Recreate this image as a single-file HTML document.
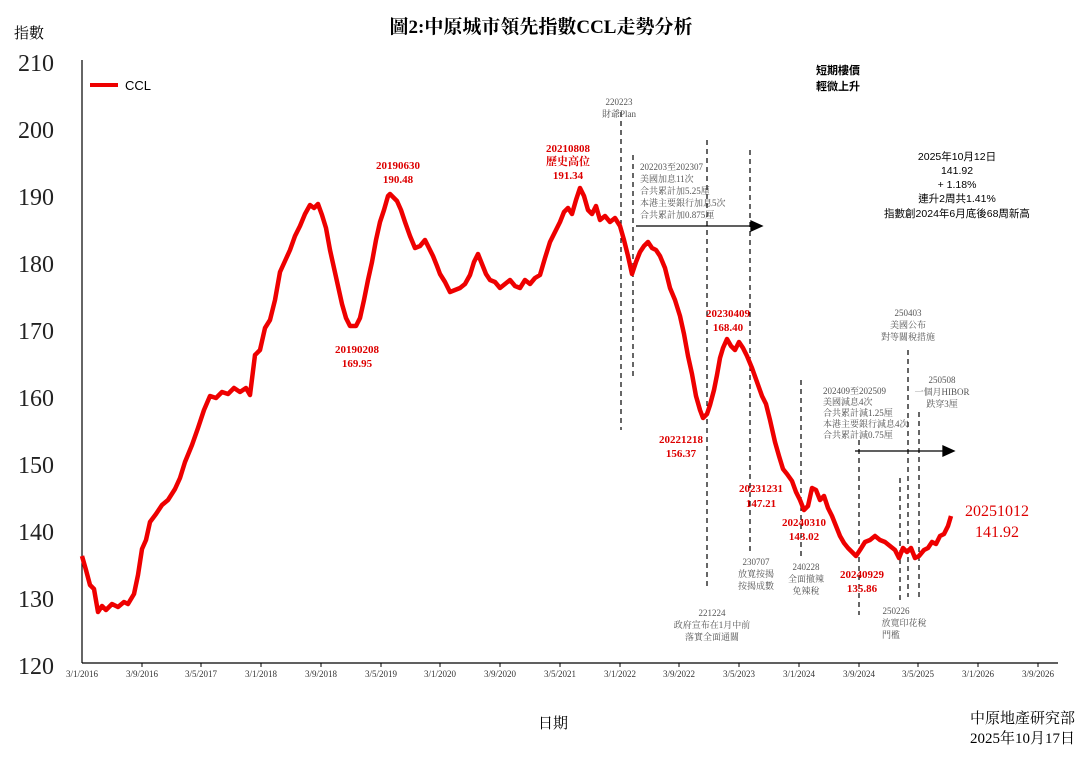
<!DOCTYPE html>
<html><head><meta charset="utf-8"><style>
html,body{margin:0;padding:0;background:#fff;}
svg{display:block;}
</style></head><body>
<svg width="1085" height="757" xmlns="http://www.w3.org/2000/svg" font-family="'Liberation Serif','Noto Serif CJK SC','Noto Sans CJK TC',serif">
<rect width="1085" height="757" fill="#fff"/>
<text x="541" y="33" text-anchor="middle" font-size="19" font-weight="bold">圖2:中原城市領先指數CCL走勢分析</text>
<text x="14" y="38" font-size="15">指數</text>
<g font-size="24" text-anchor="end" fill="#222">
<text x="54" y="71">210</text><text x="54" y="138">200</text><text x="54" y="205">190</text>
<text x="54" y="272">180</text><text x="54" y="339">170</text><text x="54" y="406">160</text>
<text x="54" y="473">150</text><text x="54" y="540">140</text><text x="54" y="607">130</text>
<text x="54" y="674">120</text>
</g>
<line x1="82" y1="60" x2="82" y2="663" stroke="#000" stroke-width="1.2"/>
<line x1="82" y1="663" x2="1058" y2="663" stroke="#000" stroke-width="1.2"/>
<g stroke="#000" stroke-width="1">
<line x1="142" y1="663" x2="142" y2="667"/><line x1="201" y1="663" x2="201" y2="667"/><line x1="261" y1="663" x2="261" y2="667"/><line x1="321" y1="663" x2="321" y2="667"/><line x1="381" y1="663" x2="381" y2="667"/><line x1="440" y1="663" x2="440" y2="667"/><line x1="500" y1="663" x2="500" y2="667"/><line x1="560" y1="663" x2="560" y2="667"/><line x1="620" y1="663" x2="620" y2="667"/><line x1="679" y1="663" x2="679" y2="667"/><line x1="739" y1="663" x2="739" y2="667"/><line x1="799" y1="663" x2="799" y2="667"/><line x1="859" y1="663" x2="859" y2="667"/><line x1="918" y1="663" x2="918" y2="667"/><line x1="978" y1="663" x2="978" y2="667"/><line x1="1038" y1="663" x2="1038" y2="667"/>
</g>
<g font-size="9" text-anchor="middle" fill="#333">
<text x="82" y="677">3/1/2016</text><text x="142" y="677">3/9/2016</text><text x="201" y="677">3/5/2017</text><text x="261" y="677">3/1/2018</text><text x="321" y="677">3/9/2018</text><text x="381" y="677">3/5/2019</text><text x="440" y="677">3/1/2020</text><text x="500" y="677">3/9/2020</text><text x="560" y="677">3/5/2021</text><text x="620" y="677">3/1/2022</text><text x="679" y="677">3/9/2022</text><text x="739" y="677">3/5/2023</text><text x="799" y="677">3/1/2024</text><text x="859" y="677">3/9/2024</text><text x="918" y="677">3/5/2025</text><text x="978" y="677">3/1/2026</text><text x="1038" y="677">3/9/2026</text>
</g>
<text x="553" y="728" font-size="15" text-anchor="middle">日期</text>
<text x="1075" y="723" font-size="15" text-anchor="end">中原地產研究部</text>
<text x="1075" y="743" font-size="15" text-anchor="end">2025年10月17日</text>
<!-- legend -->
<line x1="90" y1="85" x2="118" y2="85" stroke="#e00" stroke-width="4"/>
<text x="125" y="90" font-size="13" font-family="'Liberation Sans',sans-serif">CCL</text>
<!-- dashed lines -->
<g stroke="#000" stroke-width="1.2" stroke-dasharray="5,4">
<line x1="621" y1="112" x2="621" y2="430"/><line x1="633" y1="155" x2="633" y2="380"/>
<line x1="707" y1="140" x2="707" y2="590"/><line x1="750" y1="150" x2="750" y2="555"/>
<line x1="801" y1="380" x2="801" y2="560"/><line x1="859" y1="440" x2="859" y2="615"/>
<line x1="900" y1="478" x2="900" y2="600"/><line x1="908" y1="350" x2="908" y2="597"/>
<line x1="919" y1="412" x2="919" y2="600"/>
</g>
<g stroke="#000" stroke-width="1.3">
<line x1="636" y1="226" x2="752" y2="226"/><polygon points="762,226 751,221 751,231" fill="#000"/>
<line x1="855" y1="451" x2="944" y2="451"/><polygon points="954,451 943,446 943,456" fill="#000"/>
</g>
<!-- series -->
<polyline fill="none" stroke="#e00" stroke-width="4.5" stroke-linejoin="round" points="82,556 86,570 90,585 94,589 98,612 102,606 106,610 112,604 118,607 124,602 128,604 134,594 138,575 142,549 146,540 150,522 156,514 162,505 168,500 175,489 180,478 185,462 192,445 198,428 204,410 210,396 216,398 222,392 228,394 234,388 240,392 246,388 250,395 255,355 260,350 265,328 270,320 275,300 280,272 285,261 290,250 295,236 300,226 305,214 310,205 314,208 318,204 322,215 326,228 330,250 334,268 338,286 342,304 346,318 350,326 356,326 360,318 364,300 368,280 372,262 376,240 380,222 384,210 388,196 390,194 394,198 397,201 401,210 405,222 410,236 415,248 420,246 425,240 429,248 433,256 437,266 440,274 445,282 450,292 455,290 460,288 465,284 470,275 474,262 478,254 482,264 486,274 490,280 495,282 500,288 505,284 510,280 515,286 520,288 525,280 530,284 535,278 540,275 545,258 550,242 555,232 560,222 564,212 568,208 572,214 576,200 580,188 584,196 588,210 592,214 596,206 600,220 605,216 610,222 615,218 620,226 624,240 628,256 632,274 636,262 640,252 644,246 648,242 652,248 656,250 660,256 665,268 670,288 675,300 680,316 684,334 688,356 692,374 696,396 700,410 703,418 707,414 710,405 714,390 717,375 720,358 723,348 727,339 731,346 735,350 739,342 743,348 747,356 752,368 757,382 762,396 766,404 770,420 775,442 779,456 783,469 787,474 792,481 796,492 800,500 804,510 808,506 812,488 816,490 820,500 824,496 828,508 832,516 836,526 840,536 844,543 848,548 852,552 856,556 860,550 865,542 870,540 875,536 880,540 885,542 890,546 895,550 899,558 903,548 907,552 911,548 915,558 919,556 924,550 928,548 932,542 936,544 940,536 944,534 948,526 951,516"/>
<!-- red labels -->
<g fill="#d00" font-size="11" font-weight="bold" text-anchor="middle">
<text x="398" y="169">20190630</text><text x="398" y="183">190.48</text>
<text x="568" y="152">20210808</text><text x="568" y="165">歷史高位</text><text x="568" y="179">191.34</text>
<text x="357" y="353">20190208</text><text x="357" y="367">169.95</text>
<text x="728" y="317">20230409</text><text x="728" y="331">168.40</text>
<text x="681" y="443">20221218</text><text x="681" y="457">156.37</text>
<text x="761" y="492">20231231</text><text x="761" y="507">147.21</text>
<text x="804" y="526">20240310</text><text x="804" y="540">143.02</text>
<text x="862" y="578">20240929</text><text x="862" y="592">135.86</text>
</g>
<g fill="#d00" font-size="16" text-anchor="middle">
<text x="997" y="516">20251012</text><text x="997" y="537">141.92</text>
</g>
<!-- grey annotations -->
<g fill="#555" font-size="9" text-anchor="middle">
<text x="619" y="105">220223</text><text x="619" y="117">財爺Plan</text>
<text x="640" y="170" text-anchor="start">202203至202307</text>
<text x="640" y="182" text-anchor="start">美國加息11次</text>
<text x="640" y="194" text-anchor="start">合共累計加5.25厘</text>
<text x="640" y="206" text-anchor="start">本港主要銀行加息5次</text>
<text x="640" y="218" text-anchor="start">合共累計加0.875厘</text>
<text x="712" y="616">221224</text><text x="712" y="628">政府宣布在1月中前</text><text x="712" y="640">落實全面通關</text>
<text x="756" y="565">230707</text><text x="756" y="577">放寬按揭</text><text x="756" y="589">按揭成數</text>
<text x="806" y="570">240228</text><text x="806" y="582">全面撤辣</text><text x="806" y="594">免辣稅</text>
<text x="823" y="394" text-anchor="start">202409至202509</text>
<text x="823" y="405" text-anchor="start">美國減息4次</text>
<text x="823" y="416" text-anchor="start">合共累計減1.25厘</text>
<text x="823" y="427" text-anchor="start">本港主要銀行減息4次</text>
<text x="823" y="438" text-anchor="start">合共累計減0.75厘</text>
<text x="908" y="316">250403</text><text x="908" y="328">美國公布</text><text x="908" y="340">對等關稅措施</text>
<text x="942" y="383">250508</text><text x="942" y="395">一個月HIBOR</text><text x="942" y="407">跌穿3厘</text>
<text x="896" y="614">250226</text><text x="904" y="626">放寬印花稅</text><text x="891" y="638">門檻</text>
</g>
<!-- black notes -->
<g font-size="11" font-weight="bold" text-anchor="middle" font-family="'Liberation Sans','Noto Sans CJK TC',sans-serif">
<text x="838" y="74">短期樓價</text><text x="838" y="90">輕微上升</text>
</g>
<g font-size="10.5" text-anchor="middle" font-family="'Liberation Sans','Noto Sans CJK TC',sans-serif">
<text x="957" y="160">2025年10月12日</text><text x="957" y="174">141.92</text><text x="957" y="188">+ 1.18%</text>
<text x="957" y="202">連升2周共1.41%</text><text x="957" y="217">指數創2024年6月底後68周新高</text>
</g>
</svg>
</body></html>
